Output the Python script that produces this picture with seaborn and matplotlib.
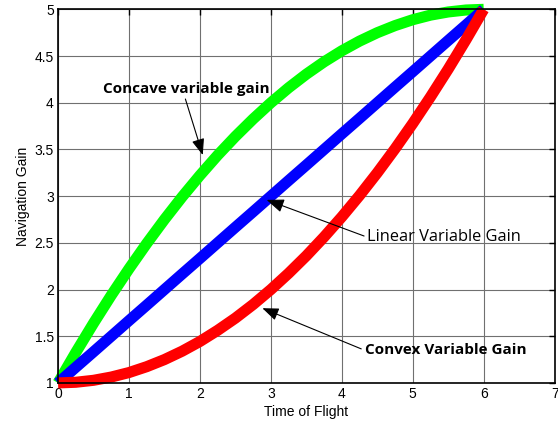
import matplotlib
matplotlib.use("Agg")
import matplotlib.pyplot as plt
import seaborn as sns
import pandas as pd

time_of_flight = [0, 0.25, 0.5, 0.75, 1, 1.25, 1.5, 1.75, 2, 2.25, 2.5, 2.75, 3,
                  3.25, 3.5, 3.75, 4, 4.25, 4.5, 4.75, 5, 5.25, 5.5, 5.75, 6]
concave_gain = [1.0, 1.326, 1.639, 1.938, 2.222, 2.493, 2.75, 2.993, 3.222, 3.438,
                3.639, 3.826, 4.0, 4.16, 4.306, 4.438, 4.556, 4.66, 4.75, 4.826,
                4.889, 4.938, 4.972, 4.993, 5.0]
linear_gain = [1.0, 1.167, 1.333, 1.5, 1.667, 1.833, 2.0, 2.167, 2.333, 2.5, 2.667,
               2.833, 3.0, 3.167, 3.333, 3.5, 3.667, 3.833, 4.0, 4.167, 4.333, 4.5,
               4.667, 4.833, 5.0]
convex_gain = [1.0, 1.007, 1.028, 1.063, 1.111, 1.174, 1.25, 1.34, 1.444, 1.563,
               1.694, 1.84, 2.0, 2.174, 2.361, 2.563, 2.778, 3.007, 3.25, 3.507,
               3.778, 4.063, 4.361, 4.674, 5.0]

x_ticks = [0, 1, 2, 3, 4, 5, 6, 7]
y_ticks = [1, 1.5, 2, 2.5, 3, 3.5, 4, 4.5, 5]
y_tick_labels = ["1", "1.5", "2", "2.5", "3", "3.5", "4", "4.5", "5"]

sns.set_style("white")
plt.rcParams["font.family"] = ["Liberation Sans", "DejaVu Sans"]

fig = plt.figure(figsize=(5.58, 4.25), dpi=100)
ax = fig.add_axes([0.104, 0.099, 0.89, 0.879])

df = pd.DataFrame({"t": time_of_flight, "concave": concave_gain,
                   "linear": linear_gain, "convex": convex_gain})

for col, color in [("concave", "#00ff00"), ("linear", "#0000ff"), ("convex", "#ff0000")]:
    sns.lineplot(data=df, x="t", y=col, ax=ax, color=color, linewidth=8,
                 solid_capstyle="butt", solid_joinstyle="round", clip_on=False)

ax.set_xlim(0, 7)
ax.set_ylim(1, 5)
ax.set_xticks(x_ticks)
ax.set_yticks(y_ticks)
ax.set_yticklabels(y_tick_labels)
ax.grid(True, color="#707070", linewidth=0.8, linestyle="-")
ax.set_axisbelow(True)
for s in ax.spines.values():
    s.set_visible(True)
    s.set_color("black")
    s.set_linewidth(1.2)
ax.tick_params(direction="in", length=4, width=1, top=True, right=True,
               labelsize=10, pad=3, colors="black", labelcolor="black")
ax.set_xlabel("Time of Flight", fontsize=10, labelpad=3, color="black")
ax.set_ylabel("Navigation Gain", fontsize=10, labelpad=3, color="black")

afont = ["Open Sans", "DejaVu Sans"]
arrow = dict(arrowstyle="-|>,head_length=0.9,head_width=0.35", color="black", lw=0.8,
             shrinkA=0, shrinkB=0)
ax.annotate("Concave variable gain", xy=(2.04, 3.44), xytext=(0.63, 4.15),
            fontsize=11, fontweight="bold", family=afont, va="center", ha="left",
            color="black", arrowprops=dict(arrow, relpos=(0.49, 0.0)))
ax.annotate("Linear Variable Gain", xy=(2.94, 2.96), xytext=(4.36, 2.56),
            fontsize=11.8, family=afont, va="center", ha="left",
            color="black", arrowprops=dict(arrow, relpos=(0.0, 0.5)))
ax.annotate("Convex Variable Gain", xy=(2.88, 1.80), xytext=(4.32, 1.35),
            fontsize=11, fontweight="bold", family=afont, va="center", ha="left",
            color="black", arrowprops=dict(arrow, relpos=(0.0, 0.5)))

fig.savefig("out.png", dpi=100)
